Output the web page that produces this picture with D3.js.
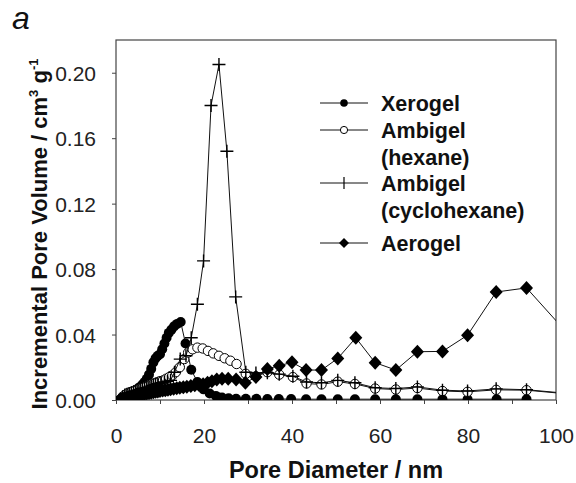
<!DOCTYPE html>
<html>
<head>
<meta charset="utf-8">
<script src="https://cdn.jsdelivr.net/npm/d3@7"></script>
<style>
  body { margin: 0; background: #fff; }
  svg { font-family: "Liberation Sans", Arial, sans-serif; }
</style>
</head>
<body>
<svg id="chart" width="576" height="483"></svg>
<script>
// values (pore diameter nm, incremental pore volume cm3/g)
const xerogelX = [1.0, 1.5, 2.0, 2.5, 3.0, 3.5, 4.0, 4.5, 5.0, 5.5, 6.0, 6.5, 7.0, 7.5, 8.0, 8.5, 9.0, 9.5, 10.0, 10.5, 11.0, 11.5, 12.0, 12.6, 13.2, 13.9, 14.7, 15.8, 17.1, 18.5, 19.9, 21.3, 22.7, 24.1, 25.6, 27.3, 29.5, 31.9, 34.4, 37.0, 39.8, 43.2, 46.7, 50.4, 54.3, 58.9, 63.6, 68.5, 74.2, 79.9, 86.5, 93.3];
const xerogelY = [0.0005, 0.001, 0.0015, 0.002, 0.003, 0.004, 0.005, 0.006, 0.007, 0.008, 0.0095, 0.011, 0.013, 0.0155, 0.019, 0.023, 0.0255, 0.027, 0.028, 0.031, 0.0345, 0.038, 0.041, 0.043, 0.045, 0.0465, 0.0477, 0.0345, 0.0185, 0.011, 0.0065, 0.004, 0.0025, 0.0015, 0.001, 0.0008, 0.0007, 0.0007, 0.0006, 0.0006, 0.0006, 0.0005, 0.0005, 0.0005, 0.0005, 0.0005, 0.0005, 0.0005, 0.0005, 0.0005, 0.0005, 0.0005];

const hexaneX = [1.5, 2.0, 2.5, 3.0, 3.5, 4.0, 4.5, 5.0, 5.5, 6.0, 6.5, 7.0, 7.5, 8.0, 8.5, 9.0, 9.5, 10.0, 10.7, 11.4, 12.1, 12.8, 13.6, 14.5, 15.5, 16.4, 17.4, 18.5, 19.7, 20.9, 22.1, 23.4, 24.7, 26.0, 27.4, 29.5, 31.8, 34.4, 37.1, 40.2, 43.3, 46.7, 50.4, 54.3, 58.9, 63.6, 68.5, 74.2, 79.9, 86.4, 93.3, 101.5];
const hexaneY = [0.002, 0.003, 0.004, 0.0045, 0.005, 0.0055, 0.006, 0.0065, 0.007, 0.0075, 0.008, 0.0085, 0.009, 0.0095, 0.01, 0.0105, 0.011, 0.0115, 0.012, 0.013, 0.014, 0.015, 0.017, 0.02, 0.025, 0.029, 0.031, 0.032, 0.0315, 0.03, 0.0285, 0.027, 0.0255, 0.024, 0.022, 0.016, 0.0145, 0.017, 0.0155, 0.014, 0.0101, 0.0095, 0.0112, 0.0098, 0.007, 0.0064, 0.0073, 0.0055, 0.005, 0.0062, 0.006, 0.004];

const cycloX = [1.5, 2.0, 2.5, 3.0, 3.5, 4.0, 4.5, 5.0, 5.5, 6.0, 6.5, 7.0, 7.5, 8.0, 8.5, 9.0, 9.5, 10.2, 11.0, 11.7, 12.4, 13.3, 14.6, 15.9, 17.1, 18.5, 19.9, 21.6, 23.4, 25.2, 27.2, 29.5, 31.8, 34.4, 37.1, 40.2, 43.3, 46.7, 50.4, 54.3, 58.9, 63.6, 68.5, 74.2, 79.9, 86.4, 93.3, 101.5];
const cycloY = [0.002, 0.003, 0.0035, 0.004, 0.0045, 0.005, 0.0055, 0.006, 0.0065, 0.007, 0.0072, 0.0075, 0.008, 0.0085, 0.009, 0.0095, 0.01, 0.0105, 0.011, 0.0115, 0.012, 0.017, 0.025, 0.027, 0.038, 0.0585, 0.085, 0.18, 0.205, 0.152, 0.063, 0.017, 0.0165, 0.0167, 0.0158, 0.0145, 0.011, 0.0105, 0.012, 0.0105, 0.0075, 0.007, 0.008, 0.006, 0.0055, 0.0068, 0.0063, 0.0043];

const aerogelX = [1.0, 1.5, 2.0, 2.5, 3.0, 3.5, 4.0, 4.5, 5.0, 5.5, 6.0, 6.5, 7.0, 7.5, 8.0, 8.5, 9.0, 9.5, 10.0, 10.6, 11.2, 11.8, 12.4, 13.1, 13.8, 14.5, 15.3, 16.1, 17.0, 17.9, 18.8, 19.8, 20.8, 21.8, 22.9, 24.1, 25.5, 27.3, 29.4, 31.8, 34.4, 37.1, 40.0, 43.2, 46.7, 50.4, 54.5, 58.9, 63.6, 68.5, 74.2, 79.9, 86.4, 93.3, 101.5];
const aerogelY = [0.0005, 0.001, 0.0012, 0.0015, 0.0018, 0.002, 0.0023, 0.0026, 0.003, 0.0032, 0.0035, 0.0037, 0.004, 0.0042, 0.0045, 0.0047, 0.005, 0.0052, 0.0055, 0.0058, 0.006, 0.0063, 0.0066, 0.0069, 0.0072, 0.0075, 0.0078, 0.0081, 0.0085, 0.009, 0.0093, 0.0097, 0.0105, 0.0115, 0.0125, 0.013, 0.013, 0.0125, 0.0105, 0.014, 0.019, 0.021, 0.023, 0.0183, 0.0183, 0.0254, 0.038, 0.0228, 0.0183, 0.0295, 0.0297, 0.0396, 0.066, 0.0685, 0.044];

const xTicks = [0, 20, 40, 60, 80, 100];
const yTicks = [0, 0.04, 0.08, 0.12, 0.16, 0.20];

const series = [
  { name: 'Xerogel', label: ['Xerogel'], xs: xerogelX, ys: xerogelY, marker: 'filledCircle' },
  { name: 'hexane', label: ['Ambigel', '(hexane)'], xs: hexaneX, ys: hexaneY, marker: 'openCircle' },
  { name: 'cyclo', label: ['Ambigel', '(cyclohexane)'], xs: cycloX, ys: cycloY, marker: 'plus' },
  { name: 'Aerogel', label: ['Aerogel'], xs: aerogelX, ys: aerogelY, marker: 'diamond' }
];

const margin = { top: 40, right: 20, bottom: 83, left: 116 };
const width = 576, height = 483;

const svg = d3.select('#chart');

const x = d3.scaleLinear().domain([0, 100]).range([margin.left, width - margin.right]);
const y = d3.scaleLinear().domain([0, 0.22]).range([height - margin.bottom, margin.top]);

svg.append('clipPath').attr('id', 'plot-clip')
  .append('rect')
  .attr('x', x(0)).attr('y', y(0.22))
  .attr('width', x(100) - x(0)).attr('height', y(0) - y(0.22));

// axes
const xAxis = svg.append('g')
  .attr('transform', `translate(0,${y(0)})`)
  .call(d3.axisBottom(x).tickValues(d3.range(0, 101, 10)).tickSize(4).tickFormat(d => xTicks.includes(d) ? d : ''));
xAxis.select('.domain').remove();
xAxis.selectAll('text').attr('font-size', 21).attr('fill', '#222').attr('dy', 0).attr('y', 43);
xAxis.selectAll('line').attr('stroke', '#444');

const yAxis = svg.append('g')
  .attr('transform', `translate(${x(0)},0)`)
  .call(d3.axisLeft(y).tickValues(yTicks).tickSize(4).tickFormat(d3.format('.2f')));
yAxis.select('.domain').remove();
yAxis.selectAll('text').attr('font-size', 21).attr('fill', '#222').attr('x', -20).attr('dy', '0.36em');
yAxis.selectAll('line').attr('stroke', '#444');

svg.selectAll('text').attr('font-family', '"Liberation Sans", Arial, sans-serif');

// frame
svg.append('rect')
  .attr('x', x(0)).attr('y', y(0.22))
  .attr('width', x(100) - x(0)).attr('height', y(0) - y(0.22))
  .attr('fill', 'none').attr('stroke', '#444').attr('stroke-width', 1.2);

function drawMarker(g, type, cx, cy) {
  if (type === 'filledCircle') {
    g.append('circle').attr('cx', cx).attr('cy', cy).attr('r', 5).attr('fill', '#000');
  } else if (type === 'openCircle') {
    g.append('circle').attr('cx', cx).attr('cy', cy).attr('r', 4.7)
      .attr('fill', '#fff').attr('stroke', '#000').attr('stroke-width', 1);
  } else if (type === 'plus') {
    g.append('path').attr('d', `M${cx - 6.5},${cy}H${cx + 6.5}M${cx},${cy - 6.5}V${cy + 6.5}`)
      .attr('stroke', '#000').attr('stroke-width', 1.4).attr('fill', 'none');
  } else {
    g.append('path').attr('d', `M${cx},${cy - 7}L${cx + 6.5},${cy}L${cx},${cy + 7}L${cx - 6.5},${cy}Z`)
      .attr('fill', '#000');
  }
}

const plot = svg.append('g').attr('clip-path', 'url(#plot-clip)');
const line = d3.line().x(d => x(d[0])).y(d => y(d[1]));

series.forEach(s => {
  const pts = s.xs.map((v, i) => [v, s.ys[i]]);
  const g = plot.append('g');
  g.append('path').datum(pts).attr('d', line)
    .attr('fill', 'none').attr('stroke', '#111').attr('stroke-width', 1);
  pts.forEach(p => drawMarker(g, s.marker, x(p[0]), y(p[1])));
});

// legend
const legendRows = [103, 130, 183, 243];
const legend = svg.append('g');
series.forEach((s, i) => {
  const ly = legendRows[i];
  legend.append('line').attr('x1', 320).attr('x2', 368).attr('y1', ly).attr('y2', ly)
    .attr('stroke', '#111').attr('stroke-width', 1);
  const lg = legend.append('g');
  if (s.marker === 'filledCircle') {
    lg.append('circle').attr('cx', 344).attr('cy', ly).attr('r', 3.8).attr('fill', '#000');
  } else if (s.marker === 'openCircle') {
    lg.append('circle').attr('cx', 344).attr('cy', ly).attr('r', 3.6).attr('fill', '#fff').attr('stroke', '#000');
  } else if (s.marker === 'plus') {
    lg.append('path').attr('d', `M344,${ly - 6}V${ly + 6}`).attr('stroke', '#000').attr('stroke-width', 1.2);
  } else {
    lg.append('path').attr('d', `M344,${ly - 5}L349,${ly}L344,${ly + 5}L339,${ly}Z`).attr('fill', '#000');
  }
  s.label.forEach((t, k) => {
    legend.append('text').attr('x', 381).attr('y', ly + 7.5 + k * 27)
      .attr('font-size', 21.5).attr('font-weight', 'bold').attr('fill', '#111').text(t);
  });
});

// axis titles
svg.append('text')
  .attr('x', (x(0) + x(100)) / 2).attr('y', 478)
  .attr('text-anchor', 'middle').attr('font-size', 23.5).attr('font-weight', 'bold').attr('fill', '#111')
  .text('Pore Diameter / nm');

const yTitle = svg.append('text')
  .attr('transform', `translate(47,${(y(0) + y(0.22)) / 2 + 14}) rotate(-90)`)
  .attr('text-anchor', 'middle').attr('font-size', 22).attr('font-weight', 'bold').attr('fill', '#111');
yTitle.append('tspan').text('Incremental Pore Volume / cm');
yTitle.append('tspan').attr('font-size', 13).attr('dy', -9).text('3');
yTitle.append('tspan').attr('dy', 9).text(' g');
yTitle.append('tspan').attr('font-size', 13).attr('dy', -9).text('-1');

svg.append('text').attr('x', 12).attr('y', 29)
  .attr('font-size', 32).attr('font-style', 'italic').attr('fill', '#111').text('a');
</script>
</body>
</html>
